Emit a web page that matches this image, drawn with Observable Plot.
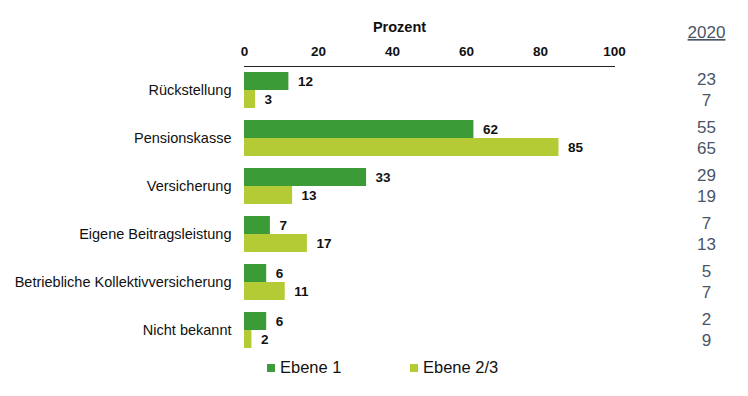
<!DOCTYPE html>
<html>
<head>
<meta charset="utf-8">
<script src="https://cdn.jsdelivr.net/npm/d3@7"></script>
<script src="https://cdn.jsdelivr.net/npm/@observablehq/plot@0.6"></script>
<style>
  body { margin: 0; background: #fff; font-family: "Liberation Sans", Arial, sans-serif; }
  #legend { position: relative; height: 41px; width: 748px; font-size: 16.5px; color: #111; }
  .item { position: absolute; top: 3px; display: flex; align-items: center; }
  .sw { width: 8px; height: 8px; margin-right: 5px; }
</style>
</head>
<body>
<div id="chart"></div>
<div id="legend"></div>
<script>
const categories = ["Rückstellung", "Pensionskasse", "Versicherung", "Eigene Beitragsleistung", "Betriebliche Kollektivversicherung", "Nicht bekannt"];
const ebene1 = [12, 62, 33, 7, 6, 6];
const ebene23 = [3, 85, 13, 17, 11, 2];
const prev2020_1 = [23, 55, 29, 7, 5, 2];
const prev2020_23 = [7, 65, 19, 13, 7, 9];
const xTicks = [0, 20, 40, 60, 80, 100];
const seriesNames = ["Ebene 1", "Ebene 2/3"];
const colors = ["#3b9c37", "#b4cb36"];

const rows1 = categories.map((c, i) => ({cat: c, v: ebene1[i], p: prev2020_1[i]}));
const rows2 = categories.map((c, i) => ({cat: c, v: ebene23[i], p: prev2020_23[i]}));

const plot = Plot.plot({
  width: 748,
  height: 355,
  marginLeft: 244,
  marginRight: 134,
  marginTop: 66,
  marginBottom: 1,
  style: {fontFamily: "'Liberation Sans', Arial, sans-serif", color: "#111"},
  x: {domain: [0, 100], axis: null},
  y: {domain: categories, padding: 0, axis: null},
  marks: [
    Plot.barX(rows1, {x: "v", y: "cat", fill: colors[0], insetTop: 6, insetBottom: 24}),
    Plot.barX(rows2, {x: "v", y: "cat", fill: colors[1], insetTop: 24, insetBottom: 6}),
    Plot.text(rows1, {x: "v", y: "cat", text: "v", dx: 9, dy: -9, textAnchor: "start", fontWeight: "bold", fontSize: 13.5, fill: "#111"}),
    Plot.text(rows2, {x: "v", y: "cat", text: "v", dx: 9, dy: 9, textAnchor: "start", fontWeight: "bold", fontSize: 13.5, fill: "#111"}),
    Plot.axisY({tickSize: 0, tickPadding: 13, fontSize: 14.5, label: null}),
    Plot.axisX(xTicks, {anchor: "top", tickSize: 0, tickPadding: 11, fontWeight: "bold", fontSize: 13.5, label: null}),
    Plot.frame({anchor: "top", stroke: "#222"}),
    Plot.text(["Prozent"], {frameAnchor: "top", lineAnchor: "middle", dx: -30, dy: -39, fontWeight: "bold", fontSize: 14.5, fill: "#111"}),
    Plot.text(["2020"], {frameAnchor: "top-right", lineAnchor: "middle", textAnchor: "middle", dx: 92, dy: -34, fontSize: 17, fill: "#4a5566", className: "hdr2020"}),
    Plot.text(rows1, {frameAnchor: "right", y: "cat", text: "p", lineAnchor: "middle", textAnchor: "middle", dx: 92, dy: -11, fontSize: 17, fill: "#4a5566"}),
    Plot.text(rows2, {frameAnchor: "right", y: "cat", text: "p", lineAnchor: "middle", textAnchor: "middle", dx: 92, dy: 10, fontSize: 17, fill: "#4a5566"})
  ]
});
d3.select(plot).selectAll(".hdr2020 text").attr("text-decoration", "underline");
document.getElementById("chart").appendChild(plot);

const legend = d3.select("#legend");
const lefts = [267, 410];
seriesNames.forEach((n, i) => {
  const it = legend.append("div").attr("class", "item").style("left", lefts[i] + "px");
  it.append("div").attr("class", "sw").style("background", colors[i]);
  it.append("span").text(n);
});
</script>
</body>
</html>
